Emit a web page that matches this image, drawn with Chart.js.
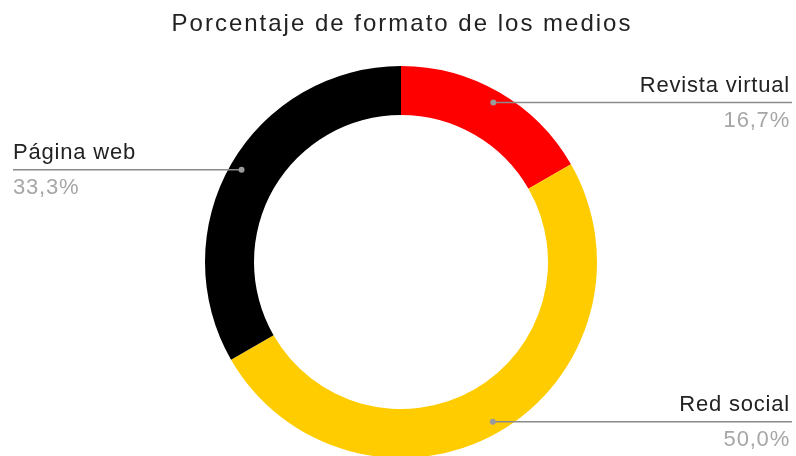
<!DOCTYPE html>
<html>
<head>
<meta charset="utf-8">
<script src="https://cdn.jsdelivr.net/npm/chart.js@4.4.0/dist/chart.umd.min.js"></script>
<style>
  html, body { margin: 0; padding: 0; background: #fff; overflow: hidden; }
  #wrap { width: 796px; height: 456px; position: relative; }
</style>
</head>
<body>
<div id="wrap"><canvas id="chart"></canvas></div>
<script>
// Datos del gráfico
const chartTitle = 'Porcentaje de formato de los medios';
const categories = ['Revista virtual', 'Red social', 'Página web'];
const values = [16.7, 50.0, 33.3];
const colors = ['#FF0000', '#FFCC00', '#000000'];

const FONT = 'Arial, "Liberation Sans", sans-serif';

// Título dibujado a mano (con algo de espaciado entre letras)
const titleText = {
  id: 'titleText',
  afterDraw(chart) {
    const ctx = chart.ctx;
    ctx.save();
    ctx.font = '24px ' + FONT;
    ctx.letterSpacing = '2px';
    ctx.fillStyle = '#222222';
    ctx.textAlign = 'center';
    ctx.textBaseline = 'alphabetic';
    ctx.fillText(chartTitle, 402, 31);
    ctx.restore();
  }
};

// Etiquetas con líneas guía, al estilo de Google Sheets
const leaderLabels = {
  id: 'leaderLabels',
  afterDatasetsDraw(chart) {
    const ctx = chart.ctx;
    const meta = chart.getDatasetMeta(0);
    const total = values.reduce((a, b) => a + b, 0);
    ctx.save();
    meta.data.forEach((arc, i) => {
      const { x, y, startAngle, endAngle, innerRadius, outerRadius } =
        arc.getProps(['x', 'y', 'startAngle', 'endAngle', 'innerRadius', 'outerRadius'], true);
      const mid = (startAngle + endAngle) / 2;
      const r = innerRadius + (outerRadius - innerRadius) * 0.76;
      const px = x + Math.cos(mid) * r;
      const py = y + Math.sin(mid) * r;
      const right = Math.cos(mid) >= 0;
      const endX = right ? 792 : 13;

      ctx.strokeStyle = '#8a8a8a';
      ctx.lineWidth = 1.5;
      ctx.beginPath();
      ctx.moveTo(px, py);
      ctx.lineTo(endX, py);
      ctx.stroke();

      ctx.fillStyle = '#9a9a9a';
      ctx.beginPath();
      ctx.arc(px, py, 3, 0, Math.PI * 2);
      ctx.fill();

      ctx.textAlign = right ? 'right' : 'left';
      ctx.textBaseline = 'alphabetic';
      ctx.font = '22px ' + FONT;
      ctx.letterSpacing = '0.8px';
      const tx = right ? endX - 2 : endX;
      ctx.fillStyle = '#222222';
      ctx.fillText(categories[i], tx, py - 11);
      ctx.fillStyle = '#a6a6a6';
      const pct = (values[i] / total * 100).toFixed(1).replace('.', ',') + '%';
      ctx.fillText(pct, tx, py + 24);
    });
    ctx.restore();
  }
};

new Chart(document.getElementById('chart'), {
  type: 'doughnut',
  data: {
    labels: categories,
    datasets: [{
      data: values,
      backgroundColor: colors,
      borderWidth: 0,
      radius: 196,
      cutout: '75%'
    }]
  },
  options: {
    responsive: true,
    maintainAspectRatio: false,
    animation: false,
    layout: { padding: { left: 6, right: 0, top: 68, bottom: 0 } },
    plugins: {
      legend: { display: false },
      tooltip: { enabled: false },
      title: { display: false }
    }
  },
  plugins: [leaderLabels, titleText]
});
</script>
</body>
</html>
